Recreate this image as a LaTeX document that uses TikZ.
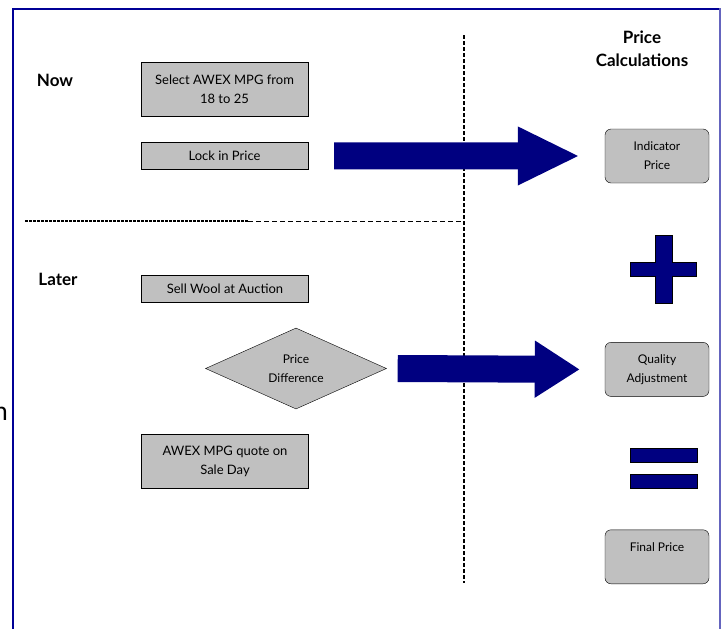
\documentclass[tikz,border=0pt]{standalone}
\usepackage{fontspec}
\setmainfont{Lato}
\usetikzlibrary{arrows.meta,positioning,calc,shapes.geometric}
\definecolor{frameblue}{RGB}{0,0,150}
\definecolor{frameside}{RGB}{100,100,190}
\definecolor{boxgray}{RGB}{192,192,192}
\definecolor{arrownavy}{RGB}{0,0,128}

\begin{document}
\begin{tikzpicture}[x=1pt,y=-1pt,
    stepbox/.style={draw,fill=boxgray,minimum width=167pt,align=center,inner sep=2pt,font=\fontsize{13}{19}\selectfont},
    calcbox/.style={draw,fill=boxgray,rounded corners=6pt,minimum width=104pt,minimum height=54pt,align=center,font=\fontsize{12}{19}\selectfont},
    phase/.style={align=center,font=\bfseries\fontsize{17}{23}\selectfont},
    fatarrow/.style={arrownavy,line width=27pt,-{Triangle[length=#1 0,width=54pt 0]}},
    sign/.style={fill=arrownavy,draw=black,line width=0.6pt},
    split/.style={line width=1.6pt,dash pattern=on 4pt off 2pt}]
      \useasboundingbox (0,0) rectangle (723,629);
      \draw[frameblue,line width=2pt] (12.5,629) -- (12.5,8.5) -- (720,8.5);
      \draw[frameside,line width=2pt] (719.5,8) -- (719.5,629);
      \node[anchor=east,inner sep=0pt,font=\fontsize{26}{26}\selectfont] (cut-text) at (8,414) {n};

      \node[phase] (now) at (55,80) {Now};
      \node[phase] (later) at (58,279) {Later};
      \node[phase] (calc-title) at (642,48.5) {Price\\ Calculations};

      \node[stepbox,minimum height=54pt] (select) at (224.5,89) {Select AWEX MPG from\\ 18 to 25};
      \node[stepbox,minimum height=27pt] (lockin) [below=26pt of select] {Lock in Price};
      \node[stepbox,minimum height=27pt] (sell) at (225,289) {Sell Wool at Auction};
      \node[draw,fill=boxgray,diamond,shape aspect=2.2,minimum width=181pt,minimum height=81pt,align=center,inner sep=1pt,font=\fontsize{12}{19}\selectfont] (diff) at (296,368.5) {Price\\ Difference};
      \node[stepbox,minimum height=54pt] (quote) at (225,461.5) {AWEX MPG quote on\\ Sale Day};

      \node[calcbox] (indicator) at (657,156) {Indicator\\ Price};
      \node[calcbox] (quality) [below=159pt of indicator] {Quality\\ Adjustment};
      \node[calcbox] (final) [below=133pt of quality] {Final Price\\ ~};

      \coordinate (v-top) at (464,35);
      \coordinate (v-bot) at (464,583);
      \coordinate (h-left) at (25,221);
      \coordinate (h-mid) at (248,221);
      \coordinate (h-right) at (464,221);
      \draw[split] (v-top) -- (v-bot);
      \draw[line width=1.6pt,dash pattern=on 3pt off 1pt] (h-left) -- (h-mid);
      \draw[line width=1pt,dash pattern=on 5pt off 3pt] (h-mid) -- (h-right);

      \draw[fatarrow=62pt] ($(lockin.east)+(26,0)$) -- ($(indicator.west)-(25,0)$);
      \draw[fatarrow=45pt] ($(diff.east)+(11,0)$) -- ($(quality.west)-(25,0)$);

      \path[sign] (630,262) -- (655,262) -- (655,235) -- (672,235) -- (672,262) -- (696,262)
        -- (696,276) -- (672,276) -- (672,303) -- (655,303) -- (655,276) -- (630,276) -- cycle;
      \foreach \y in {448,474} {
        \path[sign] (630,\y) rectangle (697,\y+14);
      }
  \end{tikzpicture}
\end{document}
